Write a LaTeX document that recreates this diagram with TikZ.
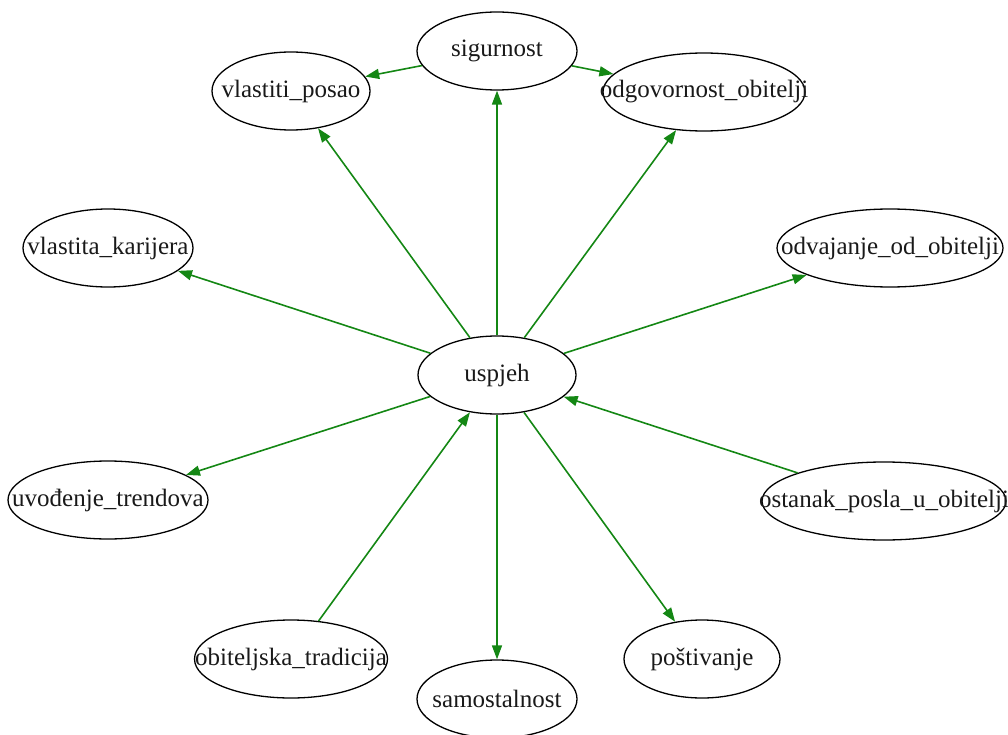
\documentclass[tikz,border=0pt]{standalone}
\usepackage{fontspec}
\setmainfont{Liberation Serif}
\usetikzlibrary{shapes.geometric,arrows.meta}
\definecolor{edgegreen}{RGB}{20,135,20}
\newcommand{\ctxt}[1]{\raisebox{-2pt}{\makebox[0pt][c]{#1}}}
\tikzset{
  nd/.style={ellipse, draw=black, line width=1.3pt, inner sep=0pt, minimum height=78pt,
    font=\fontsize{25}{28}\selectfont, text=black!90},
  arr/.style={draw=edgegreen, line width=1.6pt, -{Triangle[length=14pt,width=10pt]}}
}
\begin{document}
\begin{tikzpicture}[x=1pt,y=-1pt]
\useasboundingbox (0,0) rectangle (1008,735);
\node[nd, minimum width=160pt] (sig) at (497,51) {\ctxt{sigurnost}};
\node[nd, minimum width=158pt] (vp) at (291,91) {\ctxt{vlastiti\_posao}};
\node[nd, minimum width=202pt] (oo) at (704,92) {\ctxt{odgovornost\_obitelji}};
\node[nd, minimum width=170pt] (vk) at (108,248) {\ctxt{vlastita\_karijera}};
\node[nd, minimum width=226pt] (odv) at (890,248) {\ctxt{odvajanje\_od\_obitelji}};
\node[nd, minimum width=158pt] (usp) at (497,375) {\ctxt{uspjeh}};
\node[nd, minimum width=200pt] (uvt) at (108,500) {\ctxt{uvođenje\_trendova}};
\node[nd, minimum width=244pt] (ost) at (884,501) {\ctxt{ostanak\_posla\_u\_obitelji}};
\node[nd, minimum width=193pt] (obt) at (291,659) {\ctxt{obiteljska\_tradicija}};
\node[nd, minimum width=160pt] (sam) at (497,699) {\ctxt{samostalnost}};
\node[nd, minimum width=156pt] (pos) at (702,659) {\ctxt{poštivanje}};

\draw[arr] (sig) -- (vp);
\draw[arr] (sig) -- (oo);
\draw[arr] (usp) -- (sig);
\draw[arr] (usp) -- (vp);
\draw[arr] (usp) -- (oo);
\draw[arr] (usp) -- (vk);
\draw[arr] (usp) -- (odv);
\draw[arr] (usp) -- (uvt);
\draw[arr] (ost) -- (usp);
\draw[arr] (obt) -- (usp);
\draw[arr] (usp) -- (sam);
\draw[arr] (usp) -- (pos);
\end{tikzpicture}
\end{document}
